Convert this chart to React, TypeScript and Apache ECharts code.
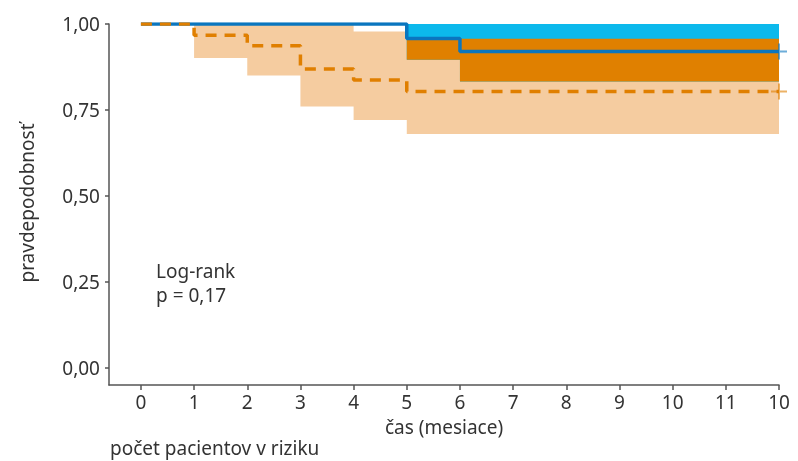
import React, { useEffect, useRef } from "react";
import * as echarts from "echarts";

// ---- data ----
const xTickValues = [0, 1, 2, 3, 4, 5, 6, 7, 8, 9, 10, 11, 12];
const xTickLabels = ["0", "1", "2", "3", "4", "5", "6", "7", "8", "9", "10", "11", "10"];
const yTickValues = [0, 0.25, 0.5, 0.75, 1];
const END_TIME = 12;

// group 1 (blue, solid)
const blueTimes = [0, 5, 6];
const blueSurv = [1, 0.958, 0.92];
const blueLower = [1, 0.896, 0.833];
const blueUpper = [1, 1, 1];

// group 2 (orange, dashed)
const orangeTimes = [0, 1, 2, 3, 4, 5];
const orangeSurv = [1, 0.967, 0.937, 0.869, 0.837, 0.804];
const orangeLower = [1, 0.901, 0.85, 0.76, 0.721, 0.68];
const orangeUpper = [1, 1, 1, 1, 0.978, 0.957];

const FONT = '"Noto Sans", "Open Sans", sans-serif';
const FS = 19;
const TEXT = "#333333";
const AXIS = "#555555";

function stepValue(times: number[], vals: number[], t: number) {
  let v = vals[0];
  for (let i = 0; i < times.length; i++) if (times[i] <= t) v = vals[i];
  return v;
}

function bandPoints(times: number[], lo: number[], hi: number[]) {
  const upper: number[][] = [];
  const lower: number[][] = [];
  for (let i = 0; i < times.length; i++) {
    const t0 = times[i];
    const t1 = i + 1 < times.length ? times[i + 1] : END_TIME;
    upper.push([t0, hi[i]], [t1, hi[i]]);
    lower.push([t0, lo[i]], [t1, lo[i]]);
  }
  return upper.concat(lower.reverse());
}

function overlapPoints() {
  const all = Array.from(new Set([...blueTimes, ...orangeTimes])).sort((a, b) => a - b);
  const lo: number[] = [];
  const hi: number[] = [];
  for (const t of all) {
    const l = Math.max(stepValue(blueTimes, blueLower, t), stepValue(orangeTimes, orangeLower, t));
    const h = Math.min(stepValue(blueTimes, blueUpper, t), stepValue(orangeTimes, orangeUpper, t));
    lo.push(l);
    hi.push(Math.max(h, l));
  }
  return bandPoints(all, lo, hi);
}

function curve(times: number[], surv: number[]) {
  const d = times.map((t, i) => [t, surv[i]]);
  d.push([END_TIME, surv[surv.length - 1]]);
  return d;
}

function bandSeries(pts: number[][], color: string, z: number) {
  return {
    type: "custom",
    silent: true,
    z,
    data: [[0, 1]],
    renderItem: (_params: any, api: any) => ({
      type: "polygon",
      shape: { points: pts.map((p) => api.coord(p)) },
      style: { fill: color, stroke: null },
    }),
  };
}

const PLUS = "path://M-1,-8H1V-1H8V1H1V8H-1V1H-8V-1H-1Z";

function txt(text: string, x: number, y: number, align: string, rotation = 0) {
  return {
    type: "text",
    x,
    y,
    rotation,
    style: {
      text,
      font: `${FS}px ${FONT}`,
      fill: TEXT,
      textAlign: align,
      textVerticalAlign: "middle",
      verticalAlign: "middle",
    },
  };
}

export default function App() {
  const ref = useRef<HTMLDivElement>(null);
  useEffect(() => {
    if (!ref.current) return;
    const chart = echarts.init(ref.current, null, { renderer: "svg" });
    const option: any = {
      animation: false,
      grid: { left: 109, right: 19, top: 24, bottom: 76, outerBoundsMode: "none" },
      xAxis: {
        type: "value",
        min: -0.6,
        max: 12,
        axisLine: { show: true, onZero: false, lineStyle: { color: AXIS, width: 1.5 } },
        axisTick: { show: true, length: 5, customValues: xTickValues, lineStyle: { color: AXIS, width: 1.5 } },
        axisLabel: {
          customValues: xTickValues,
          margin: 7,
          fontFamily: FONT,
          fontSize: FS,
          color: TEXT,
          formatter: (v: number) => {
            const i = xTickValues.indexOf(Math.round(v));
            return i >= 0 ? xTickLabels[i] : "";
          },
        },
        splitLine: { show: false },
      },
      yAxis: {
        type: "value",
        min: -0.05,
        max: 1,
        axisLine: { show: true, onZero: false, lineStyle: { color: AXIS, width: 1.5 } },
        axisTick: { show: true, length: 4, customValues: yTickValues, lineStyle: { color: AXIS, width: 1.5 } },
        axisLabel: {
          customValues: yTickValues,
          margin: 9,
          fontFamily: FONT,
          fontSize: FS,
          color: TEXT,
          formatter: (v: number) => v.toFixed(2).replace(".", ","),
        },
        splitLine: { show: false },
      },
      series: [
        bandSeries(bandPoints(orangeTimes, orangeLower, orangeUpper), "#f5cca0", 1),
        bandSeries(bandPoints(blueTimes, blueLower, blueUpper), "#0cb9ec", 2),
        bandSeries(overlapPoints(), "#e08000", 3),
        {
          type: "line",
          step: "end",
          z: 4,
          showSymbol: false,
          silent: true,
          data: curve(blueTimes, blueSurv),
          lineStyle: { color: "#0a76bf", width: 3.5 },
        },
        {
          type: "line",
          step: "end",
          z: 5,
          showSymbol: false,
          silent: true,
          data: curve(orangeTimes, orangeSurv),
          lineStyle: { color: "#e07f00", width: 3.5, type: [11, 8], cap: "butt" },
        },
        {
          type: "scatter",
          z: 6,
          silent: true,
          symbol: PLUS,
          symbolSize: 16,
          data: [[END_TIME, blueSurv[blueSurv.length - 1]]],
          itemStyle: { color: "rgba(10,118,191,0.75)" },
        },
        {
          type: "scatter",
          z: 6,
          silent: true,
          symbol: PLUS,
          symbolSize: 16,
          data: [[END_TIME, orangeSurv[orangeSurv.length - 1]]],
          itemStyle: { color: "rgba(224,127,0,0.75)" },
        },
      ],
      graphic: [
        txt("pravdepodobnosť", 27, 203, "center", Math.PI / 2),
        txt("čas (mesiace)", 444, 427, "center"),
        txt("Log-rank", 156, 271, "left"),
        txt("p = 0,17", 156, 295, "left"),
        txt("počet pacientov v riziku", 110, 448, "left"),
      ],
    };
    chart.setOption(option);
    return () => chart.dispose();
  }, []);
  return <div ref={ref} style={{ position: "fixed", left: 0, top: 0, width: 798, height: 461 }} />;
}
